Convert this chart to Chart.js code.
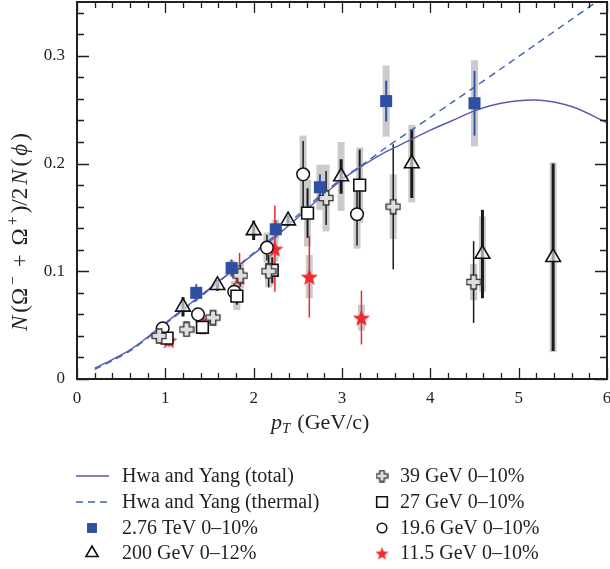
<!doctype html>
<html lang="en">
<head>
	<meta charset="utf-8">
	<title>Omega / phi ratio</title>
	<style>
		* { margin: 0; padding: 0; }
		body { background: #fff; }
		.chartBox { width: 610px; height: 569px; }
	</style>
</head>
<body>
	<div class="chartBox">
		<canvas id="myChart" width="610" height="569"></canvas>
	</div>

	<script src="https://cdn.jsdelivr.net/npm/chart.js"></script>
	<script>
		/*===== data =====*/
		// model curves (Hwa and Yang)
		const modelX    = [0.2, 0.4, 0.6, 0.8, 1.0, 1.25, 1.5, 1.75, 2.0, 2.25, 2.5, 2.75, 3.0, 3.25, 3.5, 3.75, 4.0, 4.25, 4.5, 4.8, 5.2, 5.6, 6.0];
		const totalY    = [0.010, 0.018, 0.027, 0.039, 0.052, 0.068, 0.084, 0.100, 0.116, 0.132, 0.150, 0.168, 0.185, 0.199, 0.211, 0.221, 0.231, 0.240, 0.249, 0.256, 0.259, 0.253, 0.238];
		const thermalY  = [0.009, 0.017, 0.026, 0.038, 0.051, 0.067, 0.083, 0.100, 0.117, 0.134, 0.152, 0.170, 0.186, 0.200, 0.215, 0.229, 0.243, 0.257, 0.271, 0.288, 0.311, 0.334, 0.357];

		// 2.76 TeV 0-10%
		const tevX    = [1.35, 1.75, 2.25, 2.75, 3.5, 4.5];
		const tevY    = [0.080, 0.103, 0.139, 0.178, 0.258, 0.256];
		const tevStat = [0.008, 0.008, 0.008, 0.012, 0.019, 0.030];
		const tevSys  = [0.005, 0.007, 0.009, 0.021, 0.033, 0.040];

		// 200 GeV 0-12%
		const g200X    = [1.2, 1.59, 2.0, 2.39, 2.99, 3.79, 4.59, 5.39];
		const g200Y    = [0.067, 0.087, 0.138, 0.147, 0.188, 0.200, 0.116, 0.113];
		const g200Stat = [0.009, 0.005, 0.009, 0.005, 0.016, 0.032, 0.041, 0.087];
		const g200Sys  = [0.005, 0.004, 0.005, 0.004, 0.032, 0.036, 0.035, 0.088];

		// 39 GeV 0-10%
		const g39X    = [0.93, 1.24, 1.54, 1.85, 2.17, 2.82, 3.58, 4.49];
		const g39Y    = [0.040, 0.046, 0.057, 0.096, 0.100, 0.168, 0.160, 0.090];
		const g39Stat = [0.004, 0.004, 0.005, 0.010, 0.015, 0.025, 0.058, 0.038];
		const g39Sys  = [0.006, 0.007, 0.008, 0.012, 0.015, 0.031, 0.030, 0.017];

		// 27 GeV 0-10%
		const g27X    = [1.02, 1.42, 1.81, 2.21, 2.61, 3.2];
		const g27Y    = [0.038, 0.048, 0.077, 0.101, 0.154, 0.180];
		const g27Stat = [0.004, 0.005, 0.008, 0.012, 0.023, 0.033];
		const g27Sys  = [0.005, 0.007, 0.013, 0.014, 0.031, 0.035];

		// 19.6 GeV 0-10%
		const g19X    = [0.97, 1.37, 1.78, 2.15, 2.56, 3.17];
		const g19Y    = [0.047, 0.060, 0.081, 0.122, 0.190, 0.153];
		const g19Stat = [0.004, 0.005, 0.008, 0.012, 0.031, 0.029];
		const g19Sys  = [0.005, 0.006, 0.010, 0.014, 0.036, 0.032];

		// 11.5 GeV 0-10%
		const g11X    = [1.04, 1.43, 1.84, 2.24, 2.63, 3.22];
		const g11Y    = [0.036, 0.052, 0.095, 0.121, 0.095, 0.057];
		const g11Stat = [0.006, 0.005, 0.022, 0.040, 0.038, 0.025];
		const g11Sys  = [0.004, 0.005, 0.010, 0.012, 0.020, 0.012];

		const xTicks = [0, 1, 2, 3, 4, 5, 6];
		const yTicks = [0, 0.1, 0.2, 0.3];
		/*===== end data =====*/

		const SERIF = '"Liberation Serif", "DejaVu Serif", serif';
		const INK = '#231f20';

		const pts = (xs, ys) => xs.map((x, i) => ({x: x, y: ys[i]}));

		// filled plus marker (grey with dark outline)
		function plusImg(s) {
			const c = document.createElement('canvas');
			c.width = c.height = s;
			const g = c.getContext('2d');
			const m = s / 2, a = s * 0.17, e = s / 2 - 1;
			g.beginPath();
			g.moveTo(m - a, m - e); g.lineTo(m + a, m - e); g.lineTo(m + a, m - a);
			g.lineTo(m + e, m - a); g.lineTo(m + e, m + a); g.lineTo(m + a, m + a);
			g.lineTo(m + a, m + e); g.lineTo(m - a, m + e); g.lineTo(m - a, m + a);
			g.lineTo(m - e, m + a); g.lineTo(m - e, m - a); g.lineTo(m - a, m - a);
			g.closePath();
			g.fillStyle = '#dedede';
			g.fill();
			g.lineWidth = 1.3;
			g.strokeStyle = '#333';
			g.stroke();
			return c;
		}

		// filled five-point star
		function starImg(s) {
			const c = document.createElement('canvas');
			c.width = c.height = s;
			const g = c.getContext('2d');
			const m = s / 2, R = s / 2 - 0.5, r = R * 0.42;
			g.beginPath();
			for (let k = 0; k < 10; k++) {
				const ang = -Math.PI / 2 + k * Math.PI / 5;
				const rr = k % 2 ? r : R;
				g.lineTo(m + rr * Math.cos(ang), m + 1 + rr * Math.sin(ang));
			}
			g.closePath();
			g.fillStyle = '#ee2a2e';
			g.fill();
			return c;
		}

		const plusBig = plusImg(16), plusSmall = plusImg(13);
		const starBig = starImg(19), starSmall = starImg(15);

		/*===== error bars: grey systematic box + statistical line =====*/
		const errorBars = {
			id: 'errorBars',
			beforeDatasetsDraw(chart) {
				const {ctx, scales: {x, y}} = chart;
				ctx.save();
				ctx.beginPath();
				ctx.rect(chart.chartArea.left, chart.chartArea.top, chart.chartArea.width, chart.chartArea.height);
				ctx.clip();
				chart.data.datasets.forEach(ds => {
					if (!ds.sysErr) return;
					ds.data.forEach((p, i) => {
						const px = x.getPixelForValue(p.x);
						const s = ds.sysErr[i];
						ctx.fillStyle = '#cbcbcb';
						const t = y.getPixelForValue(p.y + s), b = y.getPixelForValue(p.y - s);
						ctx.fillRect(px - 3.5, t, 7, b - t);
					});
				});
				chart.data.datasets.forEach(ds => {
					if (!ds.statErr) return;
					ds.data.forEach((p, i) => {
						const px = x.getPixelForValue(p.x);
						const s = ds.statErr[i];
						ctx.strokeStyle = ds.errColor;
						ctx.lineWidth = ds.errWidth;
						ctx.beginPath();
						ctx.moveTo(px, y.getPixelForValue(p.y + s));
						ctx.lineTo(px, y.getPixelForValue(p.y - s));
						ctx.stroke();
					});
				});
				ctx.restore();
			}
		};

		function drawShape(ctx, style, r, cx, cy) {
			if (style === 'circle') {
				ctx.arc(cx, cy, r, 0, Math.PI * 2);
			} else if (style === 'rect') {
				const h = r * Math.SQRT1_2;
				ctx.rect(cx - h, cy - h, 2 * h, 2 * h);
			} else if (style === 'triangle') {
				ctx.moveTo(cx, cy - r);
				ctx.lineTo(cx + r * 0.866, cy + r * 0.5);
				ctx.lineTo(cx - r * 0.866, cy + r * 0.5);
				ctx.closePath();
			}
		}

		/*===== frame, inward ticks, titles, legend =====*/
		const frameAndLegend = {
			id: 'frameAndLegend',
			afterDraw(chart) {
				const {ctx, chartArea: {left, right, top, bottom}, scales: {x, y}} = chart;
				ctx.save();
				ctx.strokeStyle = INK;
				ctx.lineWidth = 1.3;
				for (let v = 0; v <= 6.0001; v += 0.2) {
					const px = Math.round(x.getPixelForValue(v)) + 0.5;
					const major = Math.abs(v - Math.round(v)) < 1e-6;
					const L = major ? 11 : 6;
					ctx.beginPath();
					ctx.moveTo(px, bottom); ctx.lineTo(px, bottom - L);
					ctx.moveTo(px, top); ctx.lineTo(px, top + L);
					ctx.stroke();
				}
				for (let v = 0; v <= 0.3501; v += 0.02) {
					const py = Math.round(y.getPixelForValue(v)) + 0.5;
					const major = Math.abs(v * 10 - Math.round(v * 10)) < 1e-6;
					const L = major ? 12 : 7;
					ctx.beginPath();
					ctx.moveTo(left, py); ctx.lineTo(left + L, py);
					ctx.moveTo(right, py); ctx.lineTo(right - L, py);
					ctx.stroke();
				}
				ctx.lineWidth = 2;
				ctx.strokeRect(left, top, right - left, bottom - top);

				// axis titles
				ctx.fillStyle = INK;
				ctx.textBaseline = 'alphabetic';
				ctx.textAlign = 'left';
				let tx = 271;
				const ty = 429;
				ctx.font = 'italic 22px ' + SERIF;
				ctx.fillText('p', tx, ty);
				tx += ctx.measureText('p').width;
				ctx.font = 'italic 15px ' + SERIF;
				ctx.fillText('T', tx, ty + 4);
				tx += ctx.measureText('T').width + 7;
				ctx.font = '22px ' + SERIF;
				ctx.fillText('(GeV/c)', tx, ty);

				ctx.save();
				ctx.translate(27, 331);
				ctx.rotate(-Math.PI / 2);
				const parts = [
					['italic 23px', 'N', 0], ['23px', '(Ω', 0], ['16px', '−', -9], ['23px', ' + ', 0], ['23px', 'Ω', 0],
					['16px', '+', -9], ['23px', ')/2', 0], ['italic 23px', 'N', 0], ['23px', '(', 0],
					['italic 23px', 'ϕ', 0], ['23px', ')', 0]
				];
				let natural = 0;
				parts.forEach(([f, t]) => { ctx.font = f + ' ' + SERIF; natural += ctx.measureText(t).width; });
				const gap = Math.min(3, Math.max(0, (227 - natural) / (parts.length - 1)));
				let ox = 0;
				parts.forEach(([f, t, dy]) => {
					ctx.font = f + ' ' + SERIF;
					ctx.fillText(t, ox, dy);
					ox += ctx.measureText(t).width + gap;
				});
				ctx.restore();

				// legend, two columns
				ctx.font = '20px ' + SERIF;
				ctx.textBaseline = 'middle';
				const rows = [476, 502, 528, 553];
				const items = chart.data.datasets;
				const order = [[0, 1, 2, 3], [4, 5, 6, 7]];
				const cols = [{sx: 92, tx: 122}, {sx: 382, tx: 400}];
				order.forEach((col, ci) => {
					col.forEach((di, ri) => {
						const ds = items[di];
						const cy = rows[ri];
						const cx = cols[ci].sx;
						if (ds.showLine) {
							ctx.strokeStyle = ds.borderColor;
							ctx.lineWidth = ds.borderWidth;
							ctx.setLineDash(ds.borderDash || []);
							ctx.beginPath();
							ctx.moveTo(cx - 16, cy); ctx.lineTo(cx + 17, cy);
							ctx.stroke();
							ctx.setLineDash([]);
						} else if (ds.legendStyle) {
							Chart.helpers.drawPoint(ctx, {
								pointStyle: ds.legendStyle, radius: ds.legendRadius, borderWidth: 0, rotation: 0
							}, cx, cy);
						} else {
							ctx.fillStyle = ds.legendFill;
							ctx.strokeStyle = ds.pointBorderColor;
							ctx.lineWidth = ds.pointBorderWidth;
							ctx.beginPath();
							drawShape(ctx, ds.pointStyle, ds.legendRadius, cx, cy);
							ctx.fill();
							if (ds.pointBorderWidth) ctx.stroke();
						}
						ctx.fillStyle = INK;
						ctx.fillText(ds.label, cols[ci].tx, cy + 1);
					});
				});
				ctx.restore();
			}
		};

		const data = {
			datasets: [
				{
					label: 'Hwa and Yang (total)',
					data: pts(modelX, totalY),
					showLine: true, pointRadius: 0,
					borderColor: '#5a5cab', borderWidth: 1.4, tension: 0.3,
					order: 1
				},
				{
					label: 'Hwa and Yang (thermal)',
					data: pts(modelX, thermalY),
					showLine: true, pointRadius: 0,
					borderColor: '#3d5fb8', borderWidth: 1.4, borderDash: [7, 5], tension: 0.3,
					order: 1
				},
				{
					label: '2.76 TeV 0\u201310%',
					data: pts(tevX, tevY),
					statErr: tevStat, sysErr: tevSys, errColor: '#3452ad', errWidth: 2,
					pointStyle: 'rect', pointRadius: 8.5, pointBorderWidth: 0,
					pointBackgroundColor: '#2f4fa3', pointBorderColor: '#2f4fa3',
					legendRadius: 7, legendFill: '#2f4fa3',
					order: 0
				},
				{
					label: '200 GeV 0\u201312%',
					data: pts(g200X, g200Y),
					statErr: g200Stat, sysErr: g200Sys, errColor: '#1a1a1a', errWidth: 3,
					pointStyle: 'triangle', pointRadius: 8.5, pointBorderWidth: 1.6,
					pointBackgroundColor: 'rgba(255,255,255,0.6)', pointBorderColor: '#111',
					legendRadius: 7, legendFill: '#fff',
					order: 0
				},
				{
					label: '39 GeV 0\u201310%',
					data: pts(g39X, g39Y),
					statErr: g39Stat, sysErr: g39Sys, errColor: '#1a1a1a', errWidth: 1.5,
					pointStyle: plusBig, legendStyle: plusSmall, pointRadius: 8, pointBorderWidth: 0,
					legendRadius: 6,
					order: 0
				},
				{
					label: '27 GeV 0\u201310%',
					data: pts(g27X, g27Y),
					statErr: g27Stat, sysErr: g27Sys, errColor: '#1a1a1a', errWidth: 2,
					pointStyle: 'rect', pointRadius: 8.3, pointBorderWidth: 1.6,
					pointBackgroundColor: '#fff', pointBorderColor: '#111',
					legendRadius: 7.5, legendFill: '#fff',
					order: 0
				},
				{
					label: '19.6 GeV 0\u201310%',
					data: pts(g19X, g19Y),
					statErr: g19Stat, sysErr: g19Sys, errColor: '#1a1a1a', errWidth: 1.5,
					pointStyle: 'circle', pointRadius: 6.3, pointBorderWidth: 1.5,
					pointBackgroundColor: '#fff', pointBorderColor: '#111',
					legendRadius: 4.8, legendFill: '#fff',
					order: 0
				},
				{
					label: '11.5 GeV 0\u201310%',
					data: pts(g11X, g11Y),
					statErr: g11Stat, sysErr: g11Sys, errColor: '#ee2a2e', errWidth: 1.5,
					pointStyle: starBig, legendStyle: starSmall, pointRadius: 9, pointBorderWidth: 0,
					legendRadius: 7,
					order: 0
				}
			]
		};

		const config = {
			type: 'scatter',
			data,
			options: {
				responsive: false,
				animation: false,
				events: [],
				layout: {autoPadding: false, padding: {top: 2, right: 3, left: 0, bottom: 0}},
				plugins: {legend: {display: false}, tooltip: {enabled: false}},
				scales: {
					x: {
						type: 'linear', min: 0, max: 6,
						afterFit: s => { s.height = 190; s.paddingLeft = 0; s.paddingRight = 0; },
						grid: {display: false, drawTicks: false},
						border: {display: false},
						ticks: {
							stepSize: 1, padding: 9, color: INK,
							font: {family: SERIF, size: 17},
							callback: v => xTicks.includes(v) ? String(v) : ''
						}
					},
					y: {
						type: 'linear', min: 0, max: 0.35,
						afterFit: s => { s.width = 77; s.paddingTop = 0; s.paddingBottom = 0; },
						grid: {display: false, drawTicks: false},
						border: {display: false},
						ticks: {
							stepSize: 0.1, includeBounds: false, padding: 12, color: INK,
							font: {family: SERIF, size: 17},
							callback: v => {
								const t = yTicks.find(q => Math.abs(q - v) < 1e-6);
								return t === undefined ? '' : (t === 0 ? '0' : t.toFixed(1));
							}
						}
					}
				}
			},
			plugins: [errorBars, frameAndLegend]
		};

		const myChart = new Chart(document.getElementById('myChart'), config);
	</script>
</body>
</html>
